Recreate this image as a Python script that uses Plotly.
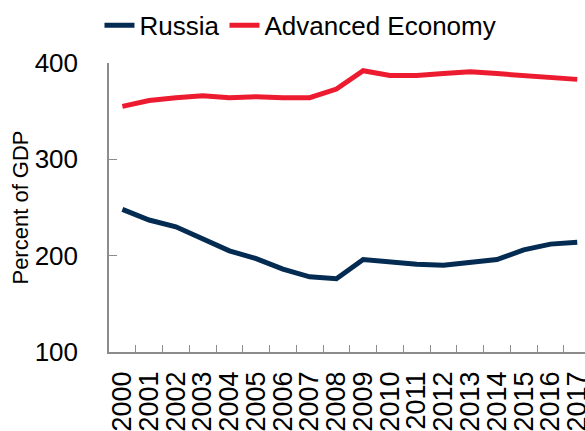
import plotly.graph_objects as go

years = [str(y) for y in range(2000, 2018)]
russia = [248, 237, 230, 217, 205, 197, 186, 178, 176, 196, 193, 191, 190, 193, 196, 206, 212, 214]
advanced = [355, 361, 364, 366, 364, 365, 364, 364, 373, 392, 387, 387, 389, 391, 389, 387, 385, 383]

font_family = "Arial, Liberation Sans, sans-serif"
axis_grey = "#8c8c8c"

fig = go.Figure()

fig.add_trace(go.Scatter(
    x=years, y=russia, name="Russia", mode="lines",
    line=dict(color="#042b52", width=5)
))
fig.add_trace(go.Scatter(
    x=years, y=advanced, name="Advanced Economy", mode="lines",
    line=dict(color="#ed1b30", width=5)
))

fig.update_xaxes(
    type="category",
    range=[-0.5, 17.29],
    tickmode="array", tickvals=years, ticktext=years,
    showline=True, linecolor=axis_grey, linewidth=1.5,
    ticks="inside", ticklen=7, tickcolor=axis_grey, tickwidth=1.2,
    tickson="boundaries",
    tickangle=-90,
    ticklabelstandoff=7,
    tickfont=dict(size=27, color="black"),
    showgrid=False, zeroline=False,
    automargin=False,
)
fig.update_yaxes(
    range=[100, 400],
    tickvals=[100, 200, 300, 400],
    showline=True, linecolor=axis_grey, linewidth=1.5,
    ticks="inside", ticklen=8, tickcolor=axis_grey, tickwidth=1.2,
    ticklabelstandoff=24,
    tickfont=dict(size=26, color="black"),
    title=dict(text="Percent of GDP", font=dict(size=22, color="black"), standoff=0),
    showgrid=False, zeroline=False,
    automargin=False,
)

fig.update_layout(
    width=585, height=431,
    margin=dict(l=109, r=0, t=63, b=79),
    paper_bgcolor="white", plot_bgcolor="white",
    font=dict(family=font_family, color="black"),
    showlegend=True,
    legend=dict(
        orientation="h", x=-0.02, xanchor="left",
        y=1.13, yanchor="middle",
        font=dict(size=26), itemwidth=30, tracegroupgap=0,
        bgcolor="rgba(0,0,0,0)",
    ),
)

# drop the page's default body margin so the figure sits at the window corner
fig.write_html(
    "out.html",
    config={"displayModeBar": False},
    post_script="document.body.style.margin='0';document.body.style.overflow='hidden';",
)
